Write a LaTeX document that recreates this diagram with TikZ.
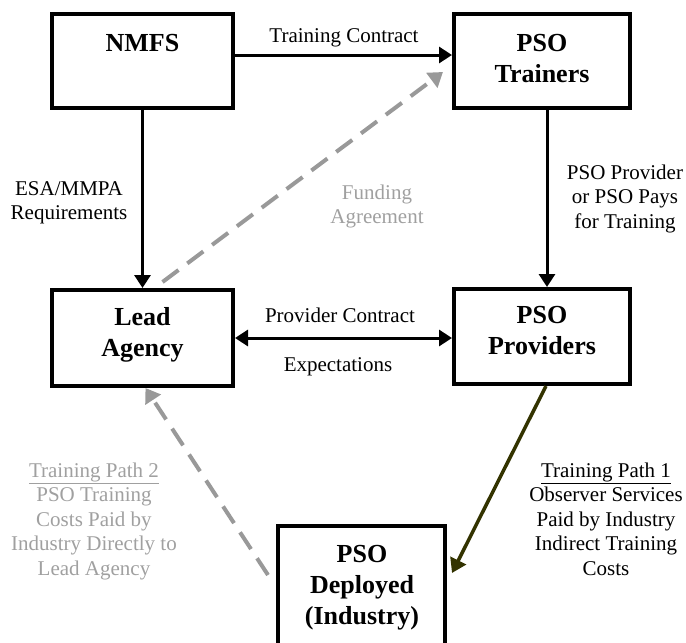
\documentclass[tikz,border=0pt]{standalone}
\usepackage{fontspec}
\setmainfont{Liberation Serif}
\usetikzlibrary{arrows.meta,calc}
\definecolor{dashgray}{RGB}{153,153,153}
\definecolor{txtgray}{RGB}{160,160,160}
\definecolor{olivedark}{RGB}{51,51,0}
\newcommand\mlines[1]{\begin{tabular}[t]{@{}c@{}}#1\end{tabular}}
\tikzset{
  boxnode/.style={draw=black, line width=4pt, rectangle, inner sep=0pt},
  boldtxt/.style={anchor=base, inner sep=0pt, font=\fontsize{26}{31}\selectfont\bfseries},
  lbl/.style={anchor=base, inner sep=0pt, font=\fontsize{21}{24.5}\selectfont},
  solidarr/.style={line width=3pt, -{Triangle[length=13pt,width=16pt]}},
  dblarr/.style={line width=3pt, {Triangle[length=13pt,width=16pt]}-{Triangle[length=13pt,width=16pt]}},
  dasharr/.style={line width=4pt, draw=dashgray, dash pattern=on 20pt off 11pt, -{Triangle[length=14pt,width=18pt]}},
}
\begin{document}
\begin{tikzpicture}[x=1pt,y=-1pt]
\useasboundingbox (0,0) rectangle (686,643);
\clip (0,0) rectangle (686,643);
% boxes
\node[boxnode, minimum width=181pt, minimum height=94pt] (nmfs) at (142.5,61) {};
\node[boxnode, minimum width=176pt, minimum height=94pt] (trn) at (542,61) {};
\node[boxnode, minimum width=181pt, minimum height=96pt] (lead) at (142.5,338) {};
\node[boxnode, minimum width=176pt, minimum height=95pt] (prov) at (542,336.5) {};
\node[boxnode, minimum width=167pt, minimum height=160pt] (dep) at (361.5,606) {};
% box texts
\node[boldtxt] (nmfsT) at (142.5,51) {NMFS};
\node[boldtxt] (trnT) at (542,51) {\mlines{PSO\\Trainers}};
\node[boldtxt] (leadT) at (142.5,325) {\mlines{Lead\\Agency}};
\node[boldtxt] (provT) at (542,323) {\mlines{PSO\\Providers}};
\node[boldtxt] (depT) at (362,562) {\mlines{PSO\\Deployed\\(Industry)}};
% connectors
\draw[solidarr] ([yshift=6pt]nmfs.east) -- ([yshift=6pt]nmfs.east -| trn.west);
\draw[solidarr] (nmfs.south) -- (lead.north);
\draw[solidarr] ([xshift=5pt]trn.south) -- ([xshift=5pt]prov.north);
\draw[dblarr] (lead.east) -- (lead.east -| prov.west);
\coordinate (fS) at ($(lead.north)+(20,-6)$);
\coordinate (fE) at ($(trn.west)+(-9,11)$);
\draw[dasharr] (fS) -- (fE);
\coordinate (p1E) at ($(dep.east)+(5,-33)$);
\draw[line width=3.5pt, draw=olivedark, -{Triangle[length=14pt,width=17pt]}] ([xshift=4pt]prov.south) -- (p1E);
\coordinate (p2S) at ($(dep.west)+(-8,-31)$);
\draw[dasharr] (p2S) -- ([xshift=3pt]lead.south);
% labels
\node[lbl] (tc) at (344,42) {Training Contract};
\node[lbl] (esa) at (69,195) {\mlines{ESA/MMPA\\Requirements}};
\node[lbl] (ppp) at (625,179) {\mlines{PSO Provider\\or PSO Pays\\for Training}};
\node[lbl, text=txtgray] (fund) at (377,199) {\mlines{Funding\\Agreement}};
\node[lbl] (pc) at (340,322) {Provider Contract};
\node[lbl] (ex) at (338,371) {Expectations};
\node[lbl, text=txtgray] (tp2) at (94,477) {\mlines{\underline{Training Path 2}\\PSO Training\\Costs Paid by\\Industry Directly to\\Lead Agency}};
\node[lbl] (tp1) at (606,477) {\mlines{\underline{Training Path 1}\\Observer Services\\Paid by Industry\\Indirect Training\\Costs}};
\end{tikzpicture}
\end{document}
